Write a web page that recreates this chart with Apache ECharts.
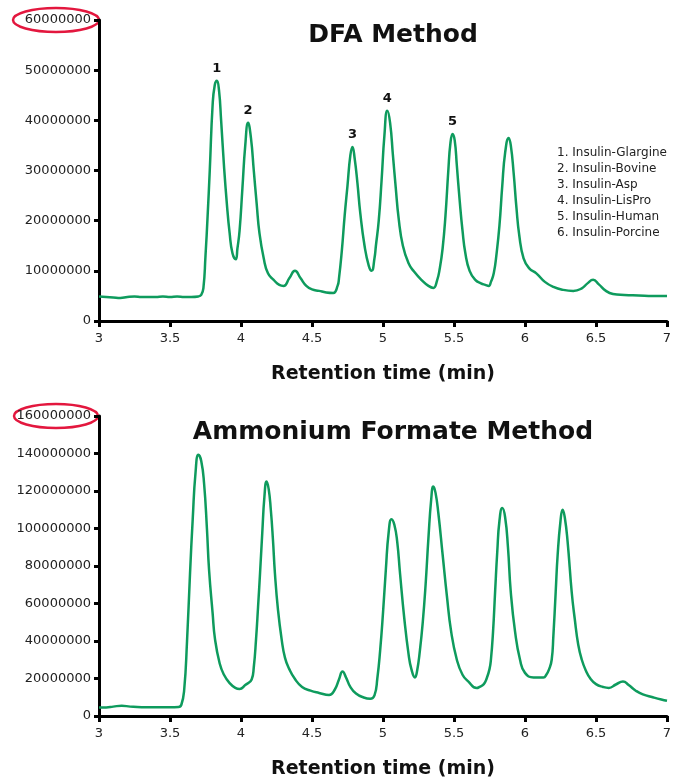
<!DOCTYPE html>
<html>
<head>
<meta charset="utf-8">
<script src="https://cdn.jsdelivr.net/npm/echarts@6/dist/echarts.min.js"></script>
<style>html,body{margin:0;padding:0;background:#fff;}#c{width:692px;height:780px;}</style>
</head>
<body>
<div id="c"></div>
<script>
// ---- DFA method (signal in millions) ----
var dfaTime = [3.00,3.05,3.10,3.15,3.20,3.25,3.30,3.35,3.40,3.45,3.50,3.55,3.60,3.65,3.70,3.72,3.735,3.75,3.765,3.78,3.80,3.815,3.83,3.845,3.86,3.88,3.90,3.92,3.94,3.963,3.975,3.99,4.01,4.03,4.05,4.07,4.09,4.11,4.13,4.16,4.19,4.23,4.27,4.30,4.34,4.38,4.42,4.46,4.50,4.55,4.60,4.65,4.68,4.69,4.71,4.73,4.75,4.77,4.785,4.80,4.82,4.84,4.87,4.90,4.92,4.94,4.95,4.97,4.99,5.01,5.03,5.05,5.07,5.09,5.11,5.14,5.18,5.22,5.27,5.32,5.355,5.38,5.40,5.42,5.44,5.46,5.475,5.49,5.505,5.52,5.54,5.56,5.58,5.61,5.65,5.69,5.72,5.745,5.76,5.78,5.80,5.82,5.84,5.86,5.885,5.90,5.92,5.94,5.96,5.99,6.03,6.08,6.14,6.20,6.27,6.34,6.40,6.44,6.48,6.52,6.57,6.62,6.70,6.80,6.90,7.00];
var dfaSignal = [4.9,4.8,4.7,4.6,4.8,4.9,4.8,4.8,4.8,4.9,4.8,4.9,4.8,4.8,4.9,5.2,6.5,13,21,30,43,47,47.9,46,40,31,23.5,17.5,13.5,12.3,14.5,18,26.5,35,39.5,36.5,30,23.5,17.5,12.5,9.5,8.2,7.2,7.0,8.5,10.0,8.5,7.0,6.3,6.0,5.7,5.6,7.0,8.5,14,21,27,33,34.7,32.5,27.5,21.5,15,11,10.0,12.5,15,20,28,37,41.9,39.5,33,26.5,20.5,15,11.5,9.8,8.2,7.0,6.6,8,10.5,14.5,21,30,35.5,37.3,36,31,24,18,13.5,10,8.2,7.5,7.2,7.0,7.8,9.5,13.5,19,27,33.5,36.5,35,29.5,22.5,17,12.5,10.5,9.5,7.8,6.8,6.2,6.0,6.5,7.5,8.2,7.3,6.0,5.4,5.2,5.1,5.0,5.0];

// ---- Ammonium formate method (signal in millions) ----
var afTime = [3.00,3.05,3.10,3.16,3.22,3.30,3.40,3.50,3.56,3.58,3.60,3.62,3.641,3.66,3.68,3.70,3.72,3.74,3.76,3.775,3.80,3.817,3.85,3.88,3.92,3.96,3.99,4.03,4.075,4.09,4.106,4.12,4.134,4.15,4.165,4.18,4.195,4.21,4.225,4.239,4.26,4.286,4.31,4.34,4.38,4.43,4.49,4.55,4.62,4.66,4.69,4.715,4.74,4.77,4.81,4.86,4.91,4.94,4.96,4.98,5.00,5.02,5.04,5.06,5.08,5.10,5.12,5.15,5.18,5.20,5.225,5.24,5.26,5.28,5.30,5.32,5.34,5.354,5.37,5.39,5.42,5.45,5.48,5.52,5.56,5.60,5.66,5.68,5.71,5.73,5.75,5.76,5.775,5.79,5.805,5.82,5.84,5.86,5.88,5.90,5.93,5.965,6.00,6.06,6.13,6.15,6.17,6.188,6.20,6.216,6.23,6.25,6.265,6.28,6.30,6.329,6.35,6.375,6.40,6.43,6.46,6.50,6.55,6.59,6.64,6.69,6.73,6.78,6.83,6.90,6.96,7.00];
var afSignal = [4.6,4.6,5.0,5.5,5.0,4.7,4.7,4.7,4.8,6,14,40,76,105,130,139.3,136,124,100,78,55,41,28,22,17.5,15,14.4,16.5,19.5,26,41,58,76,98,117,125.1,121,110,94,76,57,41,31,25,19.7,15.5,13.5,12.3,11.2,14,19.5,23.7,20.5,15.5,12,10,9.2,11,20,35,55,78,98,105,102,93,76,52,33,25,20.6,24,35,50,70,95,116,122.4,119,108,86,64,45,30,22,18.5,14.9,15.5,17,20,25,30,45,67,88,104,110.9,106,90,66,45,30,23,20.6,20.6,22,25,30,43,66,86,104,110,106,93,66,52,38,30,24,20,17,15.5,15,16.8,18.4,16.5,13.5,11.5,10,8.8,8.1];

// ---- peak annotations (DFA) ----
var peakNames = ["1","2","3","4","5"];
var peakTimes = [3.83,4.05,4.785,5.03,5.49];
var peakValues = [47.9,39.5,34.7,41.9,37.3];

var legendLines = ["1. Insulin-Glargine","2. Insulin-Bovine","3. Insulin-Asp","4. Insulin-LisPro","5. Insulin-Human","6. Insulin-Porcine"];

var xTicks = {min:3, max:7, interval:0.5};
var dfaY = {min:0, max:60000000, interval:10000000};
var afY = {min:0, max:160000000, interval:20000000};

var M = 1e6;
function pairs(t, v){ return t.map(function(x,i){ return [x, v[i]*M]; }); }

var FONT = "DejaVu Sans";
var GREEN = "#0e9b5d";

function xAxisCfg(idx){
  return {
    gridIndex: idx, type:'value', min:xTicks.min, max:xTicks.max, interval:xTicks.interval,
    name:'Retention time (min)', nameLocation:'middle', nameGap:44,
    nameTextStyle:{fontFamily:FONT, fontWeight:'bold', fontSize:19, color:'#111'},
    axisLine:{show:true, onZero:false, lineStyle:{color:'#000', width:3}},
    axisTick:{show:true, length:6, lineStyle:{color:'#000', width:3}},
    axisLabel:{fontFamily:FONT, fontSize:13, color:'#222', margin:11},
    splitLine:{show:false}
  };
}
function yAxisCfg(idx, r){
  return {
    gridIndex: idx, type:'value', min:r.min, max:r.max, interval:r.interval,
    axisLine:{show:true, lineStyle:{color:'#000', width:3}},
    axisTick:{show:true, length:5, lineStyle:{color:'#000', width:3}},
    axisLabel:{fontFamily:FONT, fontSize:13, color:'#222', margin:8,
      formatter:function(v){ return String(Math.round(v)); }},
    splitLine:{show:false}
  };
}

var markData = peakNames.map(function(n,i){
  return {name:n, coord:[peakTimes[i], peakValues[i]*M], value:n};
});

var chart = echarts.init(document.getElementById('c'), null, {renderer:'canvas'});
chart.setOption({
  animation:false,
  backgroundColor:'#fff',
  title:[
    {text:'DFA Method', left:388, top:18, textAlign:'center', textStyle:{fontFamily:FONT, fontWeight:'bold', fontSize:25, color:'#111'}},
    {text:'Ammonium Formate Method', left:388, top:415, textAlign:'center', textStyle:{fontFamily:FONT, fontWeight:'bold', fontSize:25, color:'#111'}}
  ],
  grid:[
    {left:99, right:25, top:20, height:301},
    {left:99, right:25, top:416, height:301}
  ],
  xAxis:[xAxisCfg(0), xAxisCfg(1)],
  yAxis:[yAxisCfg(0, dfaY), yAxisCfg(1, afY)],
  series:[
    {type:'line', xAxisIndex:0, yAxisIndex:0, data:pairs(dfaTime, dfaSignal),
     showSymbol:false, smooth:0.5,
     lineStyle:{color:GREEN, width:2.5},
     markPoint:{symbol:'circle', symbolSize:1, itemStyle:{color:'rgba(0,0,0,0)'},
       label:{show:true, position:'top', distance:5, formatter:'{b}', fontFamily:FONT, fontWeight:'bold', fontSize:13, color:'#111'},
       data:markData}
    },
    {type:'line', xAxisIndex:1, yAxisIndex:1, data:pairs(afTime, afSignal),
     showSymbol:false, smooth:0.5,
     lineStyle:{color:GREEN, width:2.5}}
  ],
  graphic:[
    {type:'text', left:557, top:145, style:{text:legendLines.join('\n'), fontFamily:FONT, fontSize:12, lineHeight:16, fill:'#222'}},
    {type:'ellipse', shape:{cx:56, cy:20, rx:43, ry:12}, style:{fill:'none', stroke:'#e3173e', lineWidth:2.5}},
    {type:'ellipse', shape:{cx:56, cy:416, rx:42, ry:12}, style:{fill:'none', stroke:'#e3173e', lineWidth:2.5}}
  ]
});
</script>
</body>
</html>
